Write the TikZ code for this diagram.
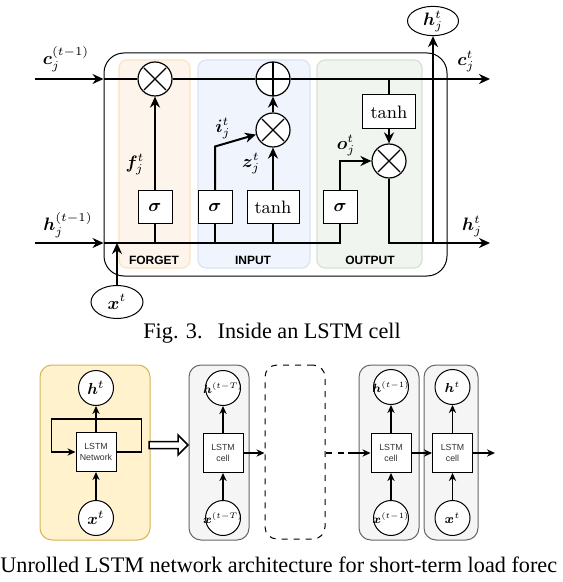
\RequirePackage{fix-cm}
\documentclass[tikz,border=0pt]{standalone}
\usepackage{color}
\usepackage{amsmath}
\usepackage{bm}
\usepackage{fontspec}
\newfontfamily\captionfont{Liberation Serif}
\newfontfamily\gatefont{Liberation Sans}
\usepackage{tikz}
\usetikzlibrary{calc}
\usetikzlibrary{shapes}
\usetikzlibrary{backgrounds}
\usetikzlibrary{arrows.meta}

\definecolor{forgetfill}{RGB}{253,245,236}
\definecolor{forgetline}{RGB}{248,228,190}
\definecolor{inputfill}{RGB}{240,244,252}
\definecolor{inputline}{RGB}{218,227,243}
\definecolor{outputfill}{RGB}{240,246,239}
\definecolor{outputline}{RGB}{214,225,212}
\definecolor{netfill}{RGB}{255,242,204}
\definecolor{netline}{RGB}{214,182,86}
\definecolor{cellfill}{RGB}{245,245,245}
\definecolor{cellline}{RGB}{102,102,102}

\DeclareMathSizes{6}{6}{4}{3}
\DeclareMathSizes{6.5}{6.5}{4.5}{3.5}
\newcommand{\circtext}[1]{\makebox[0pt]{$#1$}}

\begin{document}
\begin{tikzpicture}[x=0.5pt, y=-0.5pt,
  wire/.style={line width=1pt},
  arr/.style={wire, -{Stealth[length=5.5pt,width=5pt]}},
  lab/.style={inner sep=0pt, font=\fontsize{9}{10}\selectfont},
  gatebox/.style={draw, line width=0.5pt, fill=white, minimum width=17pt, minimum height=16.5pt, inner sep=0pt, font=\fontsize{9}{10}\selectfont},
  opnode/.style={circle, draw, line width=0.6pt, fill=white, minimum size=17pt, inner sep=0pt},
  timesop/.style={opnode, path picture={\draw[line width=0.6pt] ($(path picture bounding box.center)+(-11,-11)$) -- ++(22,22) ($(path picture bounding box.center)+(-11,11)$) -- ++(22,-22);}},
  plusop/.style={opnode, path picture={\draw[line width=0.6pt] (path picture bounding box.north) -- (path picture bounding box.south) (path picture bounding box.west) -- (path picture bounding box.east);}},
  gatepanel/.style={draw, line width=0.6pt, rounded corners=4pt, minimum height=104pt},
  gatetext/.style={inner sep=0pt, font=\gatefont\bfseries\fontsize{6}{7}\selectfont},
  ioellipse/.style={ellipse, draw, line width=0.5pt, fill=white, inner sep=0pt, font=\fontsize{9}{10}\selectfont},
  bline/.style={line width=0.75pt},
  barr/.style={bline, -{Stealth[length=4pt,width=3.6pt]}},
  unrollpanel/.style={draw, line width=0.5pt, rounded corners=6pt, minimum width=30pt, minimum height=87.5pt},
  circ/.style={circle, draw, fill=white, line width=0.5pt, minimum size=17.5pt, inner sep=0pt, font=\fontsize{6}{7}\selectfont},
  cellbox/.style={draw, fill=white, line width=0.5pt, minimum width=20pt, minimum height=19.5pt, inner sep=0pt, align=center, text=black!80, font=\gatefont\fontsize{4.4}{5.4}\selectfont},
  captext/.style={inner sep=0pt, anchor=base west, font=\captionfont\fontsize{11.1}{13}\selectfont}]
 \useasboundingbox (0,0) rectangle (562,582);

 \node[name=forget, gatepanel, fill=forgetfill, draw=forgetline, minimum width=35.5pt] at (154.5,164) {};
 \node[name=input, gatepanel, fill=inputfill, draw=inputline, minimum width=56pt] at (254,164) {};
 \node[name=output, gatepanel, fill=outputfill, draw=outputline, minimum width=52.5pt] at (369.5,164) {};
 \node[name=forgetlab, gatetext] at (154,260) {FORGET};
 \node[name=inputlab, gatetext] at (253,260) {INPUT};
 \node[name=outputlab, gatetext] at (370,260) {OUTPUT};
 \node[name=cell, draw, line width=0.5pt, rounded corners=10pt, minimum width=171.5pt, minimum height=111.5pt] at (275.5,164.5) {};

 \coordinate (cstart) at (35,79);
 \coordinate (cend) at (490,79);
 \coordinate (hstart) at (35,243);
 \coordinate (hend) at (490,243);

 \node[name=fmul, timesop] at (155,79) {};
 \node[name=cadd, plusop] at (273,79) {};
 \node[name=imul, timesop] at (273,130) {};
 \node[name=omul, timesop] at (389,161) {};
 \node[name=fsig, gatebox] at (155,207.5) {$\bm{\sigma}$};
 \node[name=isig, gatebox] at (215,207.5) {$\bm{\sigma}$};
 \node[name=itanh, gatebox, minimum width=26pt] at (273,207.5) {$\tanh$};
 \node[name=osig, gatebox] at (340,207.5) {$\bm{\sigma}$};
 \node[name=otanh, gatebox, minimum width=26.5pt, minimum height=17pt] at (389,112) {$\tanh$};
 \node[name=xt, ioellipse, minimum width=26pt, minimum height=16.5pt] at (117,302) {$\bm{x}^t$};
 \node[name=htop, ioellipse, minimum width=25.5pt, minimum height=14pt] at (433,21) {$\bm{h}_j^t$};

 \node[name=cprev, lab] at (66,59) {$\bm{c}_j^{(t-1)}$};
 \node[name=hprev, lab] at (68,225) {$\bm{h}_j^{(t-1)}$};
 \node[name=cnext, lab] at (466,61) {$\bm{c}_j^t$};
 \node[name=hnext, lab] at (472,226) {$\bm{h}_j^t$};
 \node[name=flab, lab] at (135,164) {$\bm{f}_j^t$};
 \node[name=ilab, lab] at (223,128) {$\bm{i}_j^t$};
 \node[name=zlab, lab] at (251,163) {$\bm{z}_j^t$};
 \node[name=olab, lab] at (346,145) {$\bm{o}_j^t$};

 \draw[arr] (cstart) -- (cstart -| cell.west);
 \draw[wire] (cstart -| cell.west) -- (fmul.west);
 \draw[wire] (fmul.east) -- (cadd.west);
 \draw[arr] (cadd.east) -- (cend);
 \draw[arr] (hstart) -- (hstart -| cell.west);
 \draw[wire] (hstart -| cell.west) -| (osig.south);
 \draw[arr] (xt.north) -- (xt.north |- hstart);
 \draw[wire] (fsig.south) -- (fsig.south |- hstart);
 \draw[wire] (isig.south) -- (isig.south |- hstart);
 \draw[wire] (itanh.south) -- (itanh.south |- hstart);
 \draw[arr] (fsig.north) -- (fmul.south);
 \draw[arr] (isig.north) -- ++(0,-44) -- (imul.195);
 \draw[arr] (itanh.north) -- (imul.south);
 \draw[arr] (imul.north) -- (cadd.south);
 \draw[wire] (otanh.north |- cend) -- (otanh.north);
 \draw[arr] (otanh.south) -- (omul.north);
 \draw[arr] (osig.north) |- (omul.west);
 \draw[arr] (omul.south) |- (hend);
 \draw[arr] (htop.south |- hend) -- (htop.south);

 \node[name=cap3, captext] at (143,338) {Fig. 3.\hspace{7.5pt}Inside an LSTM cell};

 \node[name=rolled, unrollpanel, fill=netfill, draw=netline, minimum width=55pt] at (95,452.5) {};
 \node[name=step1, unrollpanel, fill=cellfill, draw=cellline] at (219,452.5) {};
 \node[name=dots, unrollpanel, dashed, minimum height=87pt] at (295,452) {};
 \node[name=step2, unrollpanel, fill=cellfill, draw=cellline] at (389,452.5) {};
 \node[name=step3, unrollpanel, fill=cellfill, draw=cellline, minimum width=27pt] at (451,452.5) {};

 \node[name=net, cellbox] at (96,452) {LSTM\\Network};
 \node[name=hnet, circ, font=\fontsize{8}{9}\selectfont] at (96,388) {\circtext{\bm{h}^t}};
 \node[name=xnet, circ, font=\fontsize{8}{9}\selectfont] at (96,518) {\circtext{\bm{x}^t}};
 \node[name=c1, cellbox] at (223,453) {LSTM\\cell};
 \node[name=h1, circ] at (223,388) {\circtext{\bm{h}^{(t-T)}}};
 \node[name=x1, circ] at (223,518) {\circtext{\bm{x}^{(t-T)}}};
 \node[name=c2, cellbox] at (391,453) {LSTM\\cell};
 \node[name=h2, circ] at (391,387) {\circtext{\bm{h}^{(t-1)}}};
 \node[name=x2, circ] at (391,518) {\circtext{\bm{x}^{(t-1)}}};
 \node[name=c3, cellbox] at (452.5,453) {LSTM\\cell};
 \node[name=h3, circ, font=\fontsize{6.5}{7}\selectfont] at (452.5,387) {\circtext{\bm{h}^t}};
 \node[name=x3, circ, font=\fontsize{6.5}{7}\selectfont] at (452.5,518) {\circtext{\bm{x}^t}};

 \draw[barr] (net.north) -- (hnet.south);
 \draw[barr] (xnet.north) -- (net.south);
 \draw[barr] (net.east) -- ++(25,0) -- ++(0,-33) -- ++(-90,0) -- ++(0,33) -- (net.west);
 \draw[bline, fill=white] (149,441.5) -- (178,441.5) -- (178,435) -- (188,445) -- (178,455) -- (178,448.5) -- (149,448.5) -- cycle;

 \coordinate (dotsend) at (348,453);
 \coordinate (outend) at (495,453);
 \draw[barr] (c1.north) -- (h1.south);
 \draw[barr] (x1.north) -- (c1.south);
 \draw[barr] (c2.north) -- (h2.south);
 \draw[barr] (x2.north) -- (c2.south);
 \draw[barr] (c3.north) -- (h3.south);
 \draw[barr] (x3.north) -- (c3.south);
 \draw[barr] (c1.east) -- (c1.east -| dots.west);
 \draw[bline, dashed] (c2.west -| dots.east) -- (dotsend);
 \draw[barr] (dotsend) -- (c2.west);
 \draw[barr] (c2.east) -- (c3.west);
 \draw[barr] (c3.east) -- (outend);

 \node[name=cap4, captext] at (0,572) {Unrolled LSTM network architecture for short-term load forec};
\end{tikzpicture}
\end{document}
